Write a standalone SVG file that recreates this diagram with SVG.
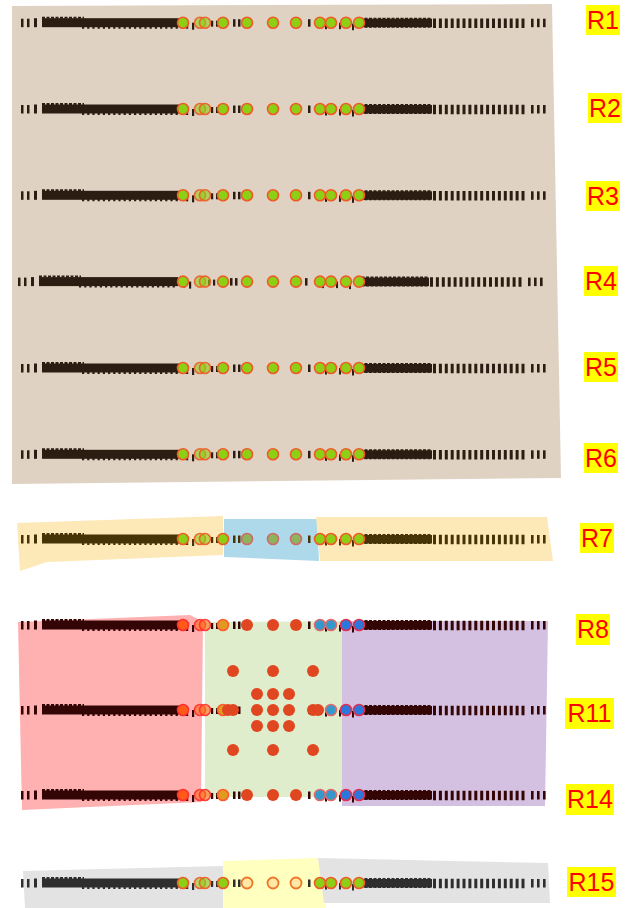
<svg xmlns="http://www.w3.org/2000/svg" width="628" height="908" viewBox="0 0 628 908">
<style>
.lbl{font-family:"Liberation Sans",Arial,sans-serif;font-size:25px;fill:#ff0000;text-anchor:middle}
.lb{fill:#ffff00}
.g{fill:#8ccf14;stroke:#f05a28;stroke-width:1.6}
.gh{fill:#8ccf14;fill-opacity:0.6;stroke:#f05a28;stroke-width:1.6;stroke-opacity:0.9}
.gm{fill:#8db45c;stroke:#d06a6a;stroke-width:1.6}
.op{fill:#ffe8a6;stroke:#f07428;stroke-width:1.8}
.or{fill:#ff5a18;stroke:#ff3030;stroke-width:1.6}
.oh{fill:#ff6a18;fill-opacity:0.6;stroke:#ff3030;stroke-width:1.6;stroke-opacity:0.9}
.gd{fill:#e09a20;stroke:#ff5a30;stroke-width:1.6}
.rd{fill:#e04620}
.lbB{fill:#3399cc;stroke:#e06a6a;stroke-width:1.6}
.db{fill:#2a78dd;stroke:#e03050;stroke-width:1.6}
</style>
<defs>
<symbol id="ticks" overflow="visible">
<g fill="currentColor" stroke="currentColor">
<rect x="21" y="-4" width="2.5" height="8.5" stroke="none"/>
<rect x="27" y="-4" width="2.5" height="8.5" stroke="none"/>
<rect x="34" y="-4.5" width="3" height="9" stroke="none"/>
<rect x="42" y="-4.5" width="139" height="9" stroke="none"/>
<line x1="42" y1="-5" x2="84" y2="-5" stroke-width="2" stroke-dasharray="3 1.5"/>
<line x1="82" y1="4.5" x2="180" y2="4.5" stroke-width="3" stroke-dasharray="2.2 3"/>
<rect x="186" y="-1" width="2.2" height="7" stroke="none"/>
<rect x="192" y="0" width="2.2" height="7" stroke="none"/>
<rect x="211" y="-2" width="2.2" height="6" stroke="none"/>
<rect x="216" y="-2" width="2.2" height="6" stroke="none"/>
<rect x="233" y="-3.5" width="2.5" height="7.5" stroke="none"/>
<rect x="238" y="-3.5" width="2.5" height="7.5" stroke="none"/>
<rect x="308" y="-3.5" width="2.5" height="7.5" stroke="none"/>
<rect x="325" y="0" width="2" height="6.5" stroke="none"/>
<rect x="339" y="0" width="2" height="6.5" stroke="none"/>
<rect x="352" y="1" width="2" height="6.5" stroke="none"/>
<rect x="360" y="-4" width="72" height="8.5" stroke="none"/>
<line x1="360" y1="0" x2="432" y2="0" stroke-width="10" stroke-dasharray="3 1.5"/>
<line x1="433" y1="0.5" x2="527" y2="0.5" stroke-width="9.5" stroke-dasharray="3 2.9"/>
<rect x="531" y="-4" width="2.6" height="8.5" stroke="none"/>
<rect x="537" y="-4" width="2.6" height="8.5" stroke="none"/>
<rect x="543" y="-4" width="2.6" height="8.5" stroke="none"/>
</g>
</symbol>
<symbol id="cg" overflow="visible">
<circle class="g" cx="183" cy="0" r="5.5"/>
<circle class="gh" cx="200" cy="0" r="5.5"/>
<circle class="gh" cx="205" cy="0" r="5.5"/>
<circle class="g" cx="223" cy="0" r="5.5"/>
<circle class="g" cx="247" cy="0" r="5.5"/>
<circle class="g" cx="273" cy="0" r="5.5"/>
<circle class="g" cx="296" cy="0" r="5.5"/>
<circle class="g" cx="320" cy="0" r="5.5"/>
<circle class="g" cx="331" cy="0" r="5.5"/>
<circle class="g" cx="346" cy="0" r="5.5"/>
<circle class="g" cx="359" cy="0" r="5.5"/>
</symbol>
</defs>

<g id="backgrounds">
<polygon points="12,6 552,4 561,478 12,484" fill="#e0d2c3"/>
<polygon points="17,523 223,516 223,555 47,562 20,571" fill="#fde8b8"/>
<polygon points="224,519 317,519 319,561 224,557" fill="#aed9ea"/>
<polygon points="316,517 547,517 553,561 320,561" fill="#fde8b8"/>
<polygon points="18,622 190,615 198,619 203,620 201,802 22,810" fill="#ffb0b0"/>
<polygon points="205,622 342,621 342,797 205,797" fill="#dfedcc"/>
<polygon points="342,621 548,621 545,806 342,806" fill="#d4c0e0"/>
<polygon points="23,871 223,866 223,908 25,908" fill="#e3e3e3"/>
<polygon points="223,861 318,858 326,908 223,908" fill="#ffffc0"/>
<polygon points="318,858 548,863 550,903 324,903" fill="#e3e3e3"/>
</g>

<g id="connectors">
<use href="#ticks" x="0" y="22.7" color="#2b1d12"/>
<use href="#ticks" x="0" y="109" color="#2b1d12"/>
<use href="#ticks" x="0" y="195.3" color="#2b1d12"/>
<use href="#ticks" x="-3" y="281.6" color="#2b1d12"/>
<use href="#ticks" x="0" y="368" color="#2b1d12"/>
<use href="#ticks" x="0" y="454.3" color="#2b1d12"/>
<use href="#ticks" x="0" y="539" color="#463406"/>
<use href="#ticks" x="0" y="625" color="#330505"/>
<use href="#ticks" x="0" y="710" color="#330505"/>
<use href="#ticks" x="0" y="795" color="#330505"/>
<use href="#ticks" x="0" y="883" color="#2e2e2e"/>
</g>

<g id="R1"><use href="#cg" y="22.7"/></g>
<g id="R2"><use href="#cg" y="109"/></g>
<g id="R3"><use href="#cg" y="195.3"/></g>
<g id="R4"><use href="#cg" y="281.6"/></g>
<g id="R5"><use href="#cg" y="368"/></g>
<g id="R6"><use href="#cg" y="454.3"/></g>

<g id="R7">
<circle class="g" cx="183" cy="539" r="5.5"/>
<circle class="gh" cx="200" cy="539" r="5.5"/>
<circle class="gh" cx="205" cy="539" r="5.5"/>
<circle class="g" cx="223" cy="539" r="5.5"/>
<circle class="gm" cx="247" cy="539" r="5.5"/>
<circle class="gm" cx="273" cy="539" r="5.5"/>
<circle class="gm" cx="296" cy="539" r="5.5"/>
<circle class="g" cx="320" cy="539" r="5.5"/>
<circle class="g" cx="331" cy="539" r="5.5"/>
<circle class="g" cx="346" cy="539" r="5.5"/>
<circle class="g" cx="359" cy="539" r="5.5"/>
</g>

<g id="R8">
<circle class="or" cx="183" cy="625" r="5.5"/>
<circle class="oh" cx="200" cy="625" r="5.5"/>
<circle class="oh" cx="205" cy="625" r="5.5"/>
<circle class="gd" cx="223" cy="625" r="5.5"/>
<circle class="rd" cx="247" cy="625" r="6"/>
<circle class="rd" cx="273" cy="625" r="6"/>
<circle class="rd" cx="296" cy="625" r="6"/>
<circle class="lbB" cx="320" cy="625" r="5.5"/>
<circle class="lbB" cx="331" cy="625" r="5.5"/>
<circle class="db" cx="346" cy="625" r="5.5"/>
<circle class="db" cx="359" cy="625" r="5.5"/>
</g>

<g id="grid">
<circle class="rd" cx="233" cy="671" r="6"/>
<circle class="rd" cx="273" cy="671" r="6"/>
<circle class="rd" cx="313" cy="671" r="6"/>
<circle class="rd" cx="257" cy="694" r="6"/>
<circle class="rd" cx="273" cy="694" r="6"/>
<circle class="rd" cx="289" cy="694" r="6"/>
<circle class="rd" cx="257" cy="710" r="6"/>
<circle class="rd" cx="273" cy="710" r="6"/>
<circle class="rd" cx="289" cy="710" r="6"/>
<circle class="rd" cx="257" cy="726" r="6"/>
<circle class="rd" cx="273" cy="726" r="6"/>
<circle class="rd" cx="289" cy="726" r="6"/>
<circle class="rd" cx="233" cy="750" r="6"/>
<circle class="rd" cx="273" cy="750" r="6"/>
<circle class="rd" cx="313" cy="750" r="6"/>
</g>

<g id="R11">
<circle class="or" cx="183" cy="710" r="5.5"/>
<circle class="oh" cx="200" cy="710" r="5.5"/>
<circle class="oh" cx="205" cy="710" r="5.5"/>
<circle class="gd" cx="223" cy="710" r="5.5"/>
<circle class="rd" cx="228" cy="710" r="6"/>
<circle class="rd" cx="233" cy="710" r="6"/>
<circle class="rd" cx="313" cy="710" r="6"/>
<circle class="rd" cx="318" cy="710" r="6"/>
<circle class="lbB" cx="331" cy="710" r="5.5"/>
<circle class="db" cx="346" cy="710" r="5.5"/>
<circle class="db" cx="359" cy="710" r="5.5"/>
</g>

<g id="R14">
<circle class="or" cx="183" cy="795" r="5.5"/>
<circle class="oh" cx="200" cy="795" r="5.5"/>
<circle class="oh" cx="205" cy="795" r="5.5"/>
<circle class="gd" cx="223" cy="795" r="5.5"/>
<circle class="rd" cx="247" cy="795" r="6"/>
<circle class="rd" cx="273" cy="795" r="6"/>
<circle class="rd" cx="296" cy="795" r="6"/>
<circle class="lbB" cx="320" cy="795" r="5.5"/>
<circle class="lbB" cx="331" cy="795" r="5.5"/>
<circle class="db" cx="346" cy="795" r="5.5"/>
<circle class="db" cx="359" cy="795" r="5.5"/>
</g>

<g id="R15">
<circle class="g" cx="183" cy="883" r="5.5"/>
<circle class="gh" cx="200" cy="883" r="5.5"/>
<circle class="gh" cx="205" cy="883" r="5.5"/>
<circle class="g" cx="223" cy="883" r="5.5"/>
<circle class="op" cx="247" cy="883" r="5.5"/>
<circle class="op" cx="273" cy="883" r="5.5"/>
<circle class="op" cx="296" cy="883" r="5.5"/>
<circle class="g" cx="320" cy="883" r="5.5"/>
<circle class="g" cx="331" cy="883" r="5.5"/>
<circle class="g" cx="346" cy="883" r="5.5"/>
<circle class="g" cx="359" cy="883" r="5.5"/>
</g>

<g id="labels">
<rect class="lb" x="586" y="5" width="34" height="30"/><text class="lbl" x="603" y="29">R1</text>
<rect class="lb" x="588" y="93" width="34" height="30"/><text class="lbl" x="605" y="117">R2</text>
<rect class="lb" x="586" y="181" width="34" height="30"/><text class="lbl" x="603" y="205">R3</text>
<rect class="lb" x="584" y="266" width="34" height="30"/><text class="lbl" x="601" y="290">R4</text>
<rect class="lb" x="584" y="352" width="34" height="30"/><text class="lbl" x="601" y="376">R5</text>
<rect class="lb" x="584" y="443" width="34" height="30"/><text class="lbl" x="601" y="467">R6</text>
<rect class="lb" x="580" y="523" width="34" height="30"/><text class="lbl" x="597" y="547">R7</text>
<rect class="lb" x="576" y="614" width="34" height="31"/><text class="lbl" x="593" y="638">R8</text>
<rect class="lb" x="565" y="698" width="49" height="31"/><text class="lbl" x="589.5" y="722">R11</text>
<rect class="lb" x="566" y="784" width="48" height="31"/><text class="lbl" x="590" y="808">R14</text>
<rect class="lb" x="567" y="867" width="49" height="30"/><text class="lbl" x="591.5" y="891">R15</text>
</g>
</svg>
